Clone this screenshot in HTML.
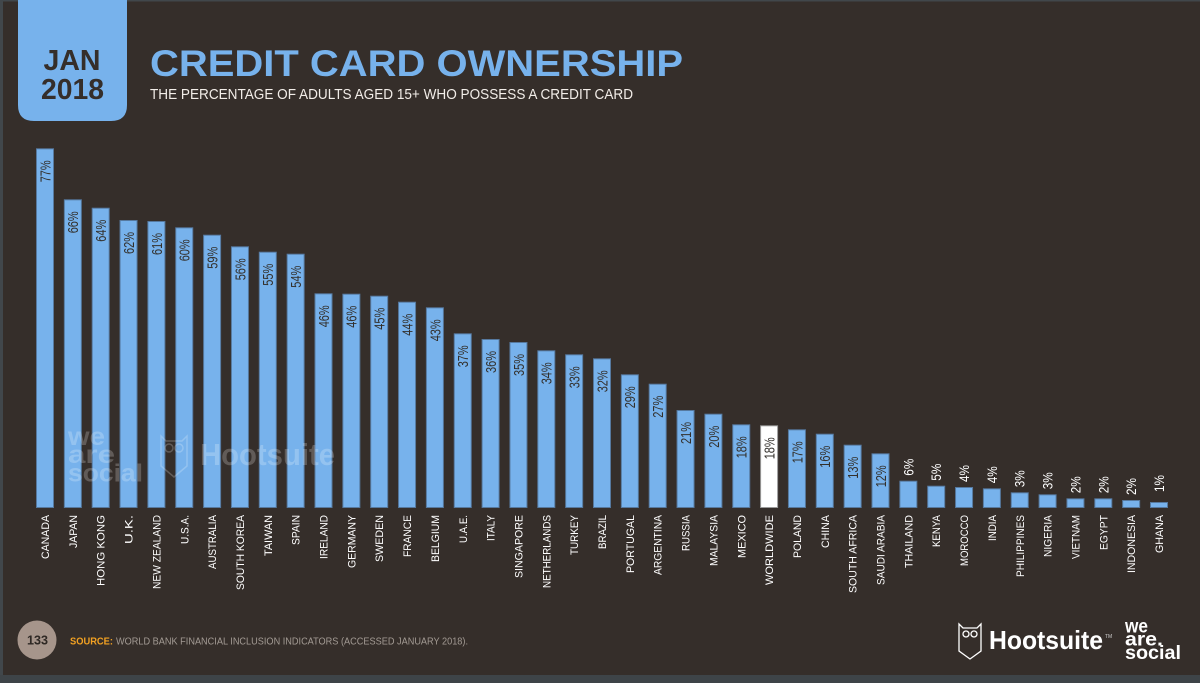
<!DOCTYPE html>
<html>
<head>
<meta charset="utf-8">
<style>
  html, body { margin:0; padding:0; background:#352e2a; }
  svg { display:block; }
  text { font-family: "Liberation Sans", "DejaVu Sans", sans-serif; }
  .v { font-size:15px; fill:#33302c; }
  .vo { font-size:14px; fill:#ffffff; }
  .c { font-size:11px; fill:#ffffff; }
  .b { fill:#77b2ec; stroke:#56799f; stroke-width:1; }
</style>
</head>
<body>
<svg width="1200" height="683" viewBox="0 0 1200 683" xmlns="http://www.w3.org/2000/svg">
  <rect x="0" y="0" width="1200" height="683" fill="#352e2a"/>
  <rect x="0" y="0" width="1200" height="1.5" fill="#41474b"/>
  <rect x="0" y="0" width="3" height="683" fill="#41474b"/>
  <rect x="0" y="675" width="1200" height="8" fill="#3e4448"/>

  <!-- header -->
  <path d="M18 0 H127 V105 Q127 121 111 121 H34 Q18 121 18 105 Z" fill="#77b2ec"/>
  <text x="72" y="70" text-anchor="middle" font-size="29" font-weight="bold" fill="#352e2a" textLength="57" lengthAdjust="spacingAndGlyphs">JAN</text>
  <text x="72.5" y="99" text-anchor="middle" font-size="29" font-weight="bold" fill="#352e2a" textLength="63" lengthAdjust="spacingAndGlyphs">2018</text>
  <text x="150" y="76" font-size="37" font-weight="bold" fill="#77b2ec" textLength="533" lengthAdjust="spacingAndGlyphs">CREDIT CARD OWNERSHIP</text>
  <text x="150" y="99" font-size="15" fill="#f2ede8" textLength="483" lengthAdjust="spacingAndGlyphs">THE PERCENTAGE OF ADULTS AGED 15+ WHO POSSESS A CREDIT CARD</text>

  <!-- bars -->
  <g>
    <rect class="b" x="36.5" y="148.8" width="17" height="358.7"/>
    <rect class="b" x="64.35" y="199.8" width="17" height="307.7"/>
    <rect class="b" x="92.2" y="208.2" width="17" height="299.3"/>
    <rect class="b" x="120.05" y="220.5" width="17" height="287"/>
    <rect class="b" x="147.9" y="221.5" width="17" height="286"/>
    <rect class="b" x="175.75" y="227.8" width="17" height="279.7"/>
    <rect class="b" x="203.6" y="235.2" width="17" height="272.3"/>
    <rect class="b" x="231.45" y="246.8" width="17" height="260.7"/>
    <rect class="b" x="259.3" y="252.2" width="17" height="255.3"/>
    <rect class="b" x="287.15" y="254.2" width="17" height="253.3"/>
    <rect class="b" x="315" y="293.8" width="17" height="213.7"/>
    <rect class="b" x="342.85" y="294.2" width="17" height="213.3"/>
    <rect class="b" x="370.7" y="296.2" width="17" height="211.3"/>
    <rect class="b" x="398.55" y="302.2" width="17" height="205.3"/>
    <rect class="b" x="426.4" y="307.8" width="17" height="199.7"/>
    <rect class="b" x="454.25" y="333.8" width="17" height="173.7"/>
    <rect class="b" x="482.1" y="339.5" width="17" height="168"/>
    <rect class="b" x="509.95" y="342.5" width="17" height="165"/>
    <rect class="b" x="537.8" y="350.8" width="17" height="156.7"/>
    <rect class="b" x="565.65" y="354.8" width="17" height="152.7"/>
    <rect class="b" x="593.5" y="358.8" width="17" height="148.7"/>
    <rect class="b" x="621.35" y="374.8" width="17" height="132.7"/>
    <rect class="b" x="649.2" y="384.2" width="17" height="123.3"/>
    <rect class="b" x="677.05" y="410.5" width="17" height="97"/>
    <rect class="b" x="704.9" y="414.2" width="17" height="93.3"/>
    <rect class="b" x="732.75" y="424.8" width="17" height="82.7"/>
    <rect x="760.6" y="425.8" width="17" height="81.7" fill="#ffffff" stroke="#9a9a9a" stroke-width="1"/>
    <rect class="b" x="788.45" y="429.8" width="17" height="77.7"/>
    <rect class="b" x="816.3" y="434.2" width="17" height="73.3"/>
    <rect class="b" x="844.15" y="445.2" width="17" height="62.3"/>
    <rect class="b" x="872" y="453.8" width="17" height="53.7"/>
    <rect class="b" x="899.85" y="481.2" width="17" height="26.3"/>
    <rect class="b" x="927.7" y="486.2" width="17" height="21.3"/>
    <rect class="b" x="955.55" y="487.5" width="17" height="20"/>
    <rect class="b" x="983.4" y="488.8" width="17" height="18.7"/>
    <rect class="b" x="1011.25" y="492.8" width="17" height="14.7"/>
    <rect class="b" x="1039.1" y="494.8" width="17" height="12.7"/>
    <rect class="b" x="1066.95" y="498.8" width="17" height="8.7"/>
    <rect class="b" x="1094.8" y="498.8" width="17" height="8.7"/>
    <rect class="b" x="1122.65" y="500.5" width="17" height="7"/>
    <rect class="b" x="1150.5" y="502.5" width="17" height="5"/>
  </g>

  <!-- watermark -->
  <g fill="#ffffff" fill-opacity="0.22" font-weight="bold">
    <text x="68" y="445" font-size="25" textLength="37" lengthAdjust="spacingAndGlyphs">we</text>
    <text x="68" y="463" font-size="25" textLength="47" lengthAdjust="spacingAndGlyphs">are</text>
    <text x="68" y="481.5" font-size="25" textLength="75" lengthAdjust="spacingAndGlyphs">social</text>
    <text x="200" y="465" font-size="31" textLength="135" lengthAdjust="spacingAndGlyphs">Hootsuite</text>
  </g>
  <g fill="none" stroke="#ffffff" stroke-opacity="0.22" stroke-width="1.5">
    <path d="M161 436 L166 441 L182 441 L187 436 L187 466 L174 477 L161 466 Z"/>
    <circle cx="169" cy="448" r="4"/>
    <circle cx="179" cy="448" r="4"/>
  </g>

  <!-- value labels -->
  <g class="v">
    <text class="v" x="50.4" y="160.3" transform="rotate(-90 50.4 160.3)" text-anchor="end" textLength="22" lengthAdjust="spacingAndGlyphs">77%</text>
    <text class="v" x="78.25" y="211.3" transform="rotate(-90 78.25 211.3)" text-anchor="end" textLength="22" lengthAdjust="spacingAndGlyphs">66%</text>
    <text class="v" x="106.1" y="219.7" transform="rotate(-90 106.1 219.7)" text-anchor="end" textLength="22" lengthAdjust="spacingAndGlyphs">64%</text>
    <text class="v" x="133.95" y="232" transform="rotate(-90 133.95 232)" text-anchor="end" textLength="22" lengthAdjust="spacingAndGlyphs">62%</text>
    <text class="v" x="161.8" y="233" transform="rotate(-90 161.8 233)" text-anchor="end" textLength="22" lengthAdjust="spacingAndGlyphs">61%</text>
    <text class="v" x="189.65" y="239.3" transform="rotate(-90 189.65 239.3)" text-anchor="end" textLength="22" lengthAdjust="spacingAndGlyphs">60%</text>
    <text class="v" x="217.5" y="246.7" transform="rotate(-90 217.5 246.7)" text-anchor="end" textLength="22" lengthAdjust="spacingAndGlyphs">59%</text>
    <text class="v" x="245.35" y="258.3" transform="rotate(-90 245.35 258.3)" text-anchor="end" textLength="22" lengthAdjust="spacingAndGlyphs">56%</text>
    <text class="v" x="273.2" y="263.7" transform="rotate(-90 273.2 263.7)" text-anchor="end" textLength="22" lengthAdjust="spacingAndGlyphs">55%</text>
    <text class="v" x="301.05" y="265.7" transform="rotate(-90 301.05 265.7)" text-anchor="end" textLength="22" lengthAdjust="spacingAndGlyphs">54%</text>
    <text class="v" x="328.9" y="305.3" transform="rotate(-90 328.9 305.3)" text-anchor="end" textLength="22" lengthAdjust="spacingAndGlyphs">46%</text>
    <text class="v" x="356.75" y="305.7" transform="rotate(-90 356.75 305.7)" text-anchor="end" textLength="22" lengthAdjust="spacingAndGlyphs">46%</text>
    <text class="v" x="384.6" y="307.7" transform="rotate(-90 384.6 307.7)" text-anchor="end" textLength="22" lengthAdjust="spacingAndGlyphs">45%</text>
    <text class="v" x="412.45" y="313.7" transform="rotate(-90 412.45 313.7)" text-anchor="end" textLength="22" lengthAdjust="spacingAndGlyphs">44%</text>
    <text class="v" x="440.3" y="319.3" transform="rotate(-90 440.3 319.3)" text-anchor="end" textLength="22" lengthAdjust="spacingAndGlyphs">43%</text>
    <text class="v" x="468.15" y="345.3" transform="rotate(-90 468.15 345.3)" text-anchor="end" textLength="22" lengthAdjust="spacingAndGlyphs">37%</text>
    <text class="v" x="496" y="351" transform="rotate(-90 496 351)" text-anchor="end" textLength="22" lengthAdjust="spacingAndGlyphs">36%</text>
    <text class="v" x="523.85" y="354" transform="rotate(-90 523.85 354)" text-anchor="end" textLength="22" lengthAdjust="spacingAndGlyphs">35%</text>
    <text class="v" x="551.7" y="362.3" transform="rotate(-90 551.7 362.3)" text-anchor="end" textLength="22" lengthAdjust="spacingAndGlyphs">34%</text>
    <text class="v" x="579.55" y="366.3" transform="rotate(-90 579.55 366.3)" text-anchor="end" textLength="22" lengthAdjust="spacingAndGlyphs">33%</text>
    <text class="v" x="607.4" y="370.3" transform="rotate(-90 607.4 370.3)" text-anchor="end" textLength="22" lengthAdjust="spacingAndGlyphs">32%</text>
    <text class="v" x="635.25" y="386.3" transform="rotate(-90 635.25 386.3)" text-anchor="end" textLength="22" lengthAdjust="spacingAndGlyphs">29%</text>
    <text class="v" x="663.1" y="395.7" transform="rotate(-90 663.1 395.7)" text-anchor="end" textLength="22" lengthAdjust="spacingAndGlyphs">27%</text>
    <text class="v" x="690.95" y="422" transform="rotate(-90 690.95 422)" text-anchor="end" textLength="22" lengthAdjust="spacingAndGlyphs">21%</text>
    <text class="v" x="718.8" y="425.7" transform="rotate(-90 718.8 425.7)" text-anchor="end" textLength="22" lengthAdjust="spacingAndGlyphs">20%</text>
    <text class="v" x="746.65" y="436.3" transform="rotate(-90 746.65 436.3)" text-anchor="end" textLength="22" lengthAdjust="spacingAndGlyphs">18%</text>
    <text class="v" x="774.5" y="437.3" transform="rotate(-90 774.5 437.3)" text-anchor="end" textLength="22" lengthAdjust="spacingAndGlyphs">18%</text>
    <text class="v" x="802.35" y="441.3" transform="rotate(-90 802.35 441.3)" text-anchor="end" textLength="22" lengthAdjust="spacingAndGlyphs">17%</text>
    <text class="v" x="830.2" y="445.7" transform="rotate(-90 830.2 445.7)" text-anchor="end" textLength="22" lengthAdjust="spacingAndGlyphs">16%</text>
    <text class="v" x="858.05" y="456.7" transform="rotate(-90 858.05 456.7)" text-anchor="end" textLength="22" lengthAdjust="spacingAndGlyphs">13%</text>
    <text class="v" x="885.9" y="465.3" transform="rotate(-90 885.9 465.3)" text-anchor="end" textLength="22" lengthAdjust="spacingAndGlyphs">12%</text>
  </g>
  <g>
    <text class="vo" x="913.35" y="475.7" transform="rotate(-90 913.35 475.7)" textLength="17" lengthAdjust="spacingAndGlyphs">6%</text>
    <text class="vo" x="941.2" y="480.7" transform="rotate(-90 941.2 480.7)" textLength="17" lengthAdjust="spacingAndGlyphs">5%</text>
    <text class="vo" x="969.05" y="482" transform="rotate(-90 969.05 482)" textLength="17" lengthAdjust="spacingAndGlyphs">4%</text>
    <text class="vo" x="996.9" y="483.3" transform="rotate(-90 996.9 483.3)" textLength="17" lengthAdjust="spacingAndGlyphs">4%</text>
    <text class="vo" x="1024.75" y="487.3" transform="rotate(-90 1024.75 487.3)" textLength="17" lengthAdjust="spacingAndGlyphs">3%</text>
    <text class="vo" x="1052.6" y="489.3" transform="rotate(-90 1052.6 489.3)" textLength="17" lengthAdjust="spacingAndGlyphs">3%</text>
    <text class="vo" x="1080.45" y="493.3" transform="rotate(-90 1080.45 493.3)" textLength="17" lengthAdjust="spacingAndGlyphs">2%</text>
    <text class="vo" x="1108.3" y="493.3" transform="rotate(-90 1108.3 493.3)" textLength="17" lengthAdjust="spacingAndGlyphs">2%</text>
    <text class="vo" x="1136.15" y="495" transform="rotate(-90 1136.15 495)" textLength="17" lengthAdjust="spacingAndGlyphs">2%</text>
    <text class="vo" x="1164" y="492" transform="rotate(-90 1164 492)" textLength="17" lengthAdjust="spacingAndGlyphs">1%</text>
  </g>

  <!-- country labels -->
  <g>
    <text class="c" x="49" y="515" transform="rotate(-90 49 515)" text-anchor="end" textLength="44" lengthAdjust="spacingAndGlyphs">CANADA</text>
    <text class="c" x="76.85" y="515" transform="rotate(-90 76.85 515)" text-anchor="end" textLength="33" lengthAdjust="spacingAndGlyphs">JAPAN</text>
    <text class="c" x="104.7" y="515" transform="rotate(-90 104.7 515)" text-anchor="end" textLength="71" lengthAdjust="spacingAndGlyphs">HONG KONG</text>
    <text class="c" x="132.55" y="515" transform="rotate(-90 132.55 515)" text-anchor="end" textLength="29" lengthAdjust="spacingAndGlyphs">U.K.</text>
    <text class="c" x="160.4" y="515" transform="rotate(-90 160.4 515)" text-anchor="end" textLength="74" lengthAdjust="spacingAndGlyphs">NEW ZEALAND</text>
    <text class="c" x="188.25" y="515" transform="rotate(-90 188.25 515)" text-anchor="end" textLength="29" lengthAdjust="spacingAndGlyphs">U.S.A.</text>
    <text class="c" x="216.1" y="515" transform="rotate(-90 216.1 515)" text-anchor="end" textLength="54" lengthAdjust="spacingAndGlyphs">AUSTRALIA</text>
    <text class="c" x="243.95" y="515" transform="rotate(-90 243.95 515)" text-anchor="end" textLength="75" lengthAdjust="spacingAndGlyphs">SOUTH KOREA</text>
    <text class="c" x="271.8" y="515" transform="rotate(-90 271.8 515)" text-anchor="end" textLength="41" lengthAdjust="spacingAndGlyphs">TAIWAN</text>
    <text class="c" x="299.65" y="515" transform="rotate(-90 299.65 515)" text-anchor="end" textLength="30" lengthAdjust="spacingAndGlyphs">SPAIN</text>
    <text class="c" x="327.5" y="515" transform="rotate(-90 327.5 515)" text-anchor="end" textLength="44" lengthAdjust="spacingAndGlyphs">IRELAND</text>
    <text class="c" x="355.35" y="515" transform="rotate(-90 355.35 515)" text-anchor="end" textLength="53" lengthAdjust="spacingAndGlyphs">GERMANY</text>
    <text class="c" x="383.2" y="515" transform="rotate(-90 383.2 515)" text-anchor="end" textLength="47" lengthAdjust="spacingAndGlyphs">SWEDEN</text>
    <text class="c" x="411.05" y="515" transform="rotate(-90 411.05 515)" text-anchor="end" textLength="42" lengthAdjust="spacingAndGlyphs">FRANCE</text>
    <text class="c" x="438.9" y="515" transform="rotate(-90 438.9 515)" text-anchor="end" textLength="47" lengthAdjust="spacingAndGlyphs">BELGIUM</text>
    <text class="c" x="466.75" y="515" transform="rotate(-90 466.75 515)" text-anchor="end" textLength="28" lengthAdjust="spacingAndGlyphs">U.A.E.</text>
    <text class="c" x="494.6" y="515" transform="rotate(-90 494.6 515)" text-anchor="end" textLength="26" lengthAdjust="spacingAndGlyphs">ITALY</text>
    <text class="c" x="522.45" y="515" transform="rotate(-90 522.45 515)" text-anchor="end" textLength="63" lengthAdjust="spacingAndGlyphs">SINGAPORE</text>
    <text class="c" x="550.3" y="515" transform="rotate(-90 550.3 515)" text-anchor="end" textLength="73" lengthAdjust="spacingAndGlyphs">NETHERLANDS</text>
    <text class="c" x="578.15" y="515" transform="rotate(-90 578.15 515)" text-anchor="end" textLength="40" lengthAdjust="spacingAndGlyphs">TURKEY</text>
    <text class="c" x="606" y="515" transform="rotate(-90 606 515)" text-anchor="end" textLength="34" lengthAdjust="spacingAndGlyphs">BRAZIL</text>
    <text class="c" x="633.85" y="515" transform="rotate(-90 633.85 515)" text-anchor="end" textLength="58" lengthAdjust="spacingAndGlyphs">PORTUGAL</text>
    <text class="c" x="661.7" y="515" transform="rotate(-90 661.7 515)" text-anchor="end" textLength="60" lengthAdjust="spacingAndGlyphs">ARGENTINA</text>
    <text class="c" x="689.55" y="515" transform="rotate(-90 689.55 515)" text-anchor="end" textLength="36" lengthAdjust="spacingAndGlyphs">RUSSIA</text>
    <text class="c" x="717.4" y="515" transform="rotate(-90 717.4 515)" text-anchor="end" textLength="51" lengthAdjust="spacingAndGlyphs">MALAYSIA</text>
    <text class="c" x="745.25" y="515" transform="rotate(-90 745.25 515)" text-anchor="end" textLength="43" lengthAdjust="spacingAndGlyphs">MEXICO</text>
    <text class="c" x="773.1" y="515" transform="rotate(-90 773.1 515)" text-anchor="end" textLength="70" lengthAdjust="spacingAndGlyphs">WORLDWIDE</text>
    <text class="c" x="800.95" y="515" transform="rotate(-90 800.95 515)" text-anchor="end" textLength="43" lengthAdjust="spacingAndGlyphs">POLAND</text>
    <text class="c" x="828.8" y="515" transform="rotate(-90 828.8 515)" text-anchor="end" textLength="33" lengthAdjust="spacingAndGlyphs">CHINA</text>
    <text class="c" x="856.65" y="515" transform="rotate(-90 856.65 515)" text-anchor="end" textLength="78" lengthAdjust="spacingAndGlyphs">SOUTH AFRICA</text>
    <text class="c" x="884.5" y="515" transform="rotate(-90 884.5 515)" text-anchor="end" textLength="70" lengthAdjust="spacingAndGlyphs">SAUDI ARABIA</text>
    <text class="c" x="912.35" y="515" transform="rotate(-90 912.35 515)" text-anchor="end" textLength="53" lengthAdjust="spacingAndGlyphs">THAILAND</text>
    <text class="c" x="940.2" y="515" transform="rotate(-90 940.2 515)" text-anchor="end" textLength="32" lengthAdjust="spacingAndGlyphs">KENYA</text>
    <text class="c" x="968.05" y="515" transform="rotate(-90 968.05 515)" text-anchor="end" textLength="51" lengthAdjust="spacingAndGlyphs">MOROCCO</text>
    <text class="c" x="995.9" y="515" transform="rotate(-90 995.9 515)" text-anchor="end" textLength="26" lengthAdjust="spacingAndGlyphs">INDIA</text>
    <text class="c" x="1023.75" y="515" transform="rotate(-90 1023.75 515)" text-anchor="end" textLength="62" lengthAdjust="spacingAndGlyphs">PHILIPPINES</text>
    <text class="c" x="1051.6" y="515" transform="rotate(-90 1051.6 515)" text-anchor="end" textLength="42" lengthAdjust="spacingAndGlyphs">NIGERIA</text>
    <text class="c" x="1079.45" y="515" transform="rotate(-90 1079.45 515)" text-anchor="end" textLength="44" lengthAdjust="spacingAndGlyphs">VIETNAM</text>
    <text class="c" x="1107.3" y="515" transform="rotate(-90 1107.3 515)" text-anchor="end" textLength="35" lengthAdjust="spacingAndGlyphs">EGYPT</text>
    <text class="c" x="1135.15" y="515" transform="rotate(-90 1135.15 515)" text-anchor="end" textLength="58" lengthAdjust="spacingAndGlyphs">INDONESIA</text>
    <text class="c" x="1163" y="515" transform="rotate(-90 1163 515)" text-anchor="end" textLength="38" lengthAdjust="spacingAndGlyphs">GHANA</text>
  </g>

  <!-- footer -->
  <circle cx="37" cy="640" r="19.5" fill="#a6958b"/>
  <text x="37.5" y="644.5" text-anchor="middle" font-size="13" font-weight="bold" fill="#2e2824" textLength="21" lengthAdjust="spacingAndGlyphs">133</text>
  <text x="70" y="644.5" font-size="10" font-weight="bold" fill="#f2a122" textLength="43" lengthAdjust="spacingAndGlyphs">SOURCE:</text>
  <text x="116" y="644.5" font-size="10" fill="#a39b94" textLength="352" lengthAdjust="spacingAndGlyphs">WORLD BANK FINANCIAL INCLUSION INDICATORS (ACCESSED JANUARY 2018).</text>

  <!-- logos -->
  <g fill="none" stroke="#ffffff" stroke-width="1.3">
    <path d="M959 624 L963 628 L977 628 L981 624 L981 651 L970 659 L959 651 Z"/>
    <circle cx="966" cy="634" r="3"/>
    <circle cx="974" cy="634" r="3"/>
  </g>
  <text x="989" y="649" font-size="26" font-weight="bold" fill="#ffffff" textLength="114" lengthAdjust="spacingAndGlyphs">Hootsuite</text>
  <text x="1105" y="638" font-size="5" fill="#cccccc">TM</text>
  <g fill="#ffffff" font-weight="bold" font-size="19">
    <text x="1125" y="632.5" textLength="23" lengthAdjust="spacingAndGlyphs">we</text>
    <text x="1125" y="645.5" textLength="38" lengthAdjust="spacingAndGlyphs">are.</text>
    <text x="1125" y="659" textLength="56" lengthAdjust="spacingAndGlyphs">social</text>
  </g>
</svg>
</body>
</html>
